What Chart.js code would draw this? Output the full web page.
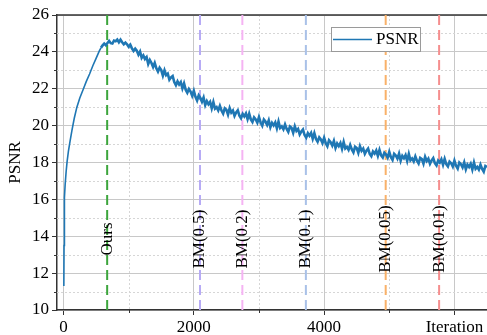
<!DOCTYPE html>
<html>
<head>
<meta charset="utf-8">
<script src="https://cdn.jsdelivr.net/npm/chart.js@4"></script>
<style>
  html, body { margin: 0; padding: 0; background: #fff; }
  #wrap { width: 487px; height: 335px; }
</style>
</head>
<body>
<div id="wrap"><canvas id="chart"></canvas></div>
<script>
// DATA
const iters = [5, 8, 12, 16, 25, 40, 55, 75, 100, 130, 165, 205, 250, 300, 350, 400, 450, 500, 550, 575,
  600, 625, 650, 675, 700, 725, 750, 775, 800, 825, 850, 875, 900, 925, 950, 975,
  1000, 1025, 1050, 1075, 1100, 1125, 1150, 1175, 1200, 1225, 1250, 1275, 1300, 1325, 1350, 1375,
  1400, 1425, 1450, 1475, 1500, 1525, 1550, 1575, 1600, 1625, 1650, 1675, 1700, 1725, 1750, 1775,
  1800, 1825, 1850, 1875, 1900, 1925, 1950, 1975, 2000, 2025, 2050, 2075, 2100, 2125, 2150, 2175,
  2200, 2225, 2250, 2275, 2300, 2325, 2350, 2375, 2400, 2425, 2450, 2475, 2500, 2525, 2550, 2575,
  2600, 2625, 2650, 2675, 2700, 2725, 2750, 2775, 2800, 2825, 2850, 2875, 2900, 2925, 2950, 2975,
  3000, 3025, 3050, 3075, 3100, 3125, 3150, 3175, 3200, 3225, 3250, 3275, 3300, 3325, 3350, 3375,
  3400, 3425, 3450, 3475, 3500, 3525, 3550, 3575, 3600, 3625, 3650, 3675, 3700, 3725, 3750, 3775,
  3800, 3825, 3850, 3875, 3900, 3925, 3950, 3975, 4000, 4025, 4050, 4075, 4100, 4125, 4150, 4175,
  4200, 4225, 4250, 4275, 4300, 4325, 4350, 4375, 4400, 4425, 4450, 4475, 4500, 4525, 4550, 4575,
  4600, 4625, 4650, 4675, 4700, 4725, 4750, 4775, 4800, 4825, 4850, 4875, 4900, 4925, 4950, 4975,
  5000, 5025, 5050, 5075, 5100, 5125, 5150, 5175, 5200, 5225, 5250, 5275, 5300, 5325, 5350, 5375,
  5400, 5425, 5450, 5475, 5500, 5525, 5550, 5575, 5600, 5625, 5650, 5675, 5700, 5725, 5750, 5775,
  5800, 5825, 5850, 5875, 5900, 5925, 5950, 5975, 6000, 6025, 6050, 6075, 6100, 6125, 6150, 6175,
  6200, 6225, 6250, 6275, 6300, 6325, 6350, 6375, 6400, 6425, 6450, 6475, 6500];
const psnr = [11.3, 13.5, 15.3, 16.1, 16.8, 17.5, 18.05, 18.6, 19.15, 19.75, 20.4, 21.0, 21.5, 21.95, 22.4, 22.8, 23.25, 23.65, 24.05, 24.22,
  24.35, 24.45, 24.36, 24.48, 24.59, 24.47, 24.45, 24.61, 24.58, 24.67, 24.52, 24.66, 24.52, 24.41, 24.50, 24.41,
  24.28, 24.39, 24.19, 24.05, 24.17, 24.06, 23.85, 24.02, 23.68, 23.81, 23.61, 23.72, 23.34, 23.56, 23.40, 23.18,
  23.40, 23.11, 22.93, 23.14, 23.01, 22.71, 23.00, 22.74, 22.82, 22.49, 22.62, 22.69, 22.36, 22.19, 22.40, 22.23,
  22.36, 22.02, 22.29, 21.95, 21.78, 21.99, 21.85, 21.62, 21.89, 21.56, 21.36, 21.64, 21.50, 21.29, 21.52, 21.11,
  21.33, 21.16, 21.29, 20.94, 21.28, 20.92, 21.00, 20.82, 21.07, 20.82, 20.65, 20.94, 20.86, 20.60, 20.95, 20.71,
  20.82, 20.53, 20.71, 20.83, 20.54, 20.40, 20.64, 20.50, 20.66, 20.35, 20.65, 20.34, 20.20, 20.45, 20.34, 20.16,
  20.46, 20.17, 20.00, 20.33, 20.22, 20.04, 20.29, 19.91, 20.15, 20.01, 20.17, 19.85, 20.22, 19.87, 19.96, 19.80,
  20.06, 19.82, 19.66, 19.95, 19.88, 19.61, 19.96, 19.71, 19.82, 19.52, 19.68, 19.79, 19.49, 19.35, 19.59, 19.45,
  19.61, 19.29, 19.59, 19.28, 19.13, 19.36, 19.25, 19.05, 19.34, 19.05, 18.88, 19.21, 19.10, 18.92, 19.17, 18.79,
  19.03, 18.89, 19.06, 18.74, 19.11, 18.76, 18.85, 18.69, 18.95, 18.71, 18.55, 18.85, 18.78, 18.52, 18.88, 18.64,
  18.76, 18.47, 18.64, 18.76, 18.47, 18.34, 18.60, 18.48, 18.65, 18.36, 18.68, 18.39, 18.27, 18.53, 18.44, 18.26,
  18.58, 18.29, 18.14, 18.47, 18.38, 18.21, 18.48, 18.10, 18.36, 18.23, 18.40, 18.08, 18.46, 18.12, 18.22, 18.06,
  18.33, 18.10, 17.95, 18.25, 18.19, 17.94, 18.31, 18.08, 18.21, 17.93, 18.11, 18.24, 17.96, 17.84, 18.10, 17.99,
  18.17, 17.88, 18.20, 17.91, 17.79, 18.05, 17.96, 17.78, 18.10, 17.82, 17.67, 18.00, 17.91, 17.74, 18.01, 17.63,
  17.89, 17.76, 17.93, 17.62, 18.00, 17.66, 17.76, 17.61, 17.88, 17.65, 17.50, 17.81, 17.75];

const markerNames = ["Ours", "BM(0.5)", "BM(0.2)", "BM(0.1)", "BM(0.05)", "BM(0.01)"];
const markerIters = [670, 2095, 2745, 3720, 4945, 5765];
const markerColors = ["#3ca53c", "#b7abf5", "#f5b3f3", "#a9c1e8", "#f9b169", "#f58e8e"];

const xTicks = [0, 2000, 4000, 6000];
const xMinor = [1000, 3000, 5000];
const yTicks = [10, 12, 14, 16, 18, 20, 22, 24, 26];
const yMinor = [11, 13, 15, 17, 19, 21, 23, 25];

const xMin = -100, xMax = 6500, yMin = 10, yMax = 26;

Chart.defaults.font.family = "'Liberation Serif', 'Times New Roman', serif";
Chart.defaults.font.size = 17;
Chart.defaults.color = "#000";

// DATASETS
let datasets = [{
  label: "PSNR",
  data: iters.map((v, i) => ({ x: v, y: psnr[i] })),
  borderColor: "#1f77b4",
  borderWidth: 2.6,
  // thin while the curve is still smooth, thicker once it gets noisy
  segment: { borderWidth: c => c.p0.parsed.x < 575 ? 1.6 : 2.6 },
  pointRadius: 0,
  tension: 0,
  order: 0
}];

markerIters.forEach((v, i) => {
  datasets.push({
    label: markerNames[i],
    data: [{ x: v, y: yMin }, { x: v, y: yMax }],
    borderColor: markerColors[i],
    borderWidth: 2,
    borderDash: [10, 5],
    pointRadius: 0,
    order: 1
  });
});

// DECOR: minor grid, minor ticks, frame, marker labels, legend
const decor = {
  id: "decor",
  beforeDatasetsDraw(chart) {
    let { ctx, chartArea: a, scales: { x, y } } = chart;
    ctx.save();
    ctx.lineWidth = 1;
    ctx.strokeStyle = "#d6d6d6";
    ctx.setLineDash([2, 2]);
    xMinor.forEach(v => {
      let px = Math.round(x.getPixelForValue(v)) + 0.5;
      ctx.beginPath(); ctx.moveTo(px, a.top); ctx.lineTo(px, a.bottom); ctx.stroke();
    });
    yMinor.forEach(v => {
      let py = Math.round(y.getPixelForValue(v)) + 0.5;
      ctx.beginPath(); ctx.moveTo(a.left, py); ctx.lineTo(a.right, py); ctx.stroke();
    });
    ctx.setLineDash([]);
    ctx.strokeStyle = "#333";
    xMinor.forEach(v => {
      let px = Math.round(x.getPixelForValue(v)) + 0.5;
      ctx.beginPath(); ctx.moveTo(px, a.bottom); ctx.lineTo(px, a.bottom + 3); ctx.stroke();
    });
    yMinor.forEach(v => {
      let py = Math.round(y.getPixelForValue(v)) + 0.5;
      ctx.beginPath(); ctx.moveTo(a.left - 3, py); ctx.lineTo(a.left, py); ctx.stroke();
    });
    ctx.lineWidth = 1.5;
    ctx.beginPath(); ctx.moveTo(a.left, a.top); ctx.lineTo(a.right, a.top); ctx.stroke();
    ctx.restore();
  },
  afterDatasetsDraw(chart) {
    let { ctx, chartArea: a, scales: { x, y } } = chart;
    ctx.save();
    ctx.font = "17px 'Liberation Serif'";
    ctx.fillStyle = "#000";
    ctx.textAlign = "center";
    ctx.textBaseline = "middle";
    markerIters.forEach((v, i) => {
      ctx.save();
      ctx.translate(x.getPixelForValue(v), y.getPixelForValue(13.85));
      ctx.rotate(-Math.PI / 2);
      ctx.fillText(markerNames[i], 0, 0);
      ctx.restore();
    });

    // legend
    let lx = a.right - 156, ly = a.top + 12;
    ctx.fillStyle = "#fff";
    ctx.fillRect(lx, ly, 89, 24);
    ctx.strokeStyle = "#9a9a9a";
    ctx.lineWidth = 1;
    ctx.strokeRect(lx + 0.5, ly + 0.5, 89, 24);
    ctx.strokeStyle = datasets[0].borderColor;
    ctx.lineWidth = 1.5;
    ctx.beginPath(); ctx.moveTo(lx + 2, ly + 12.5); ctx.lineTo(lx + 41, ly + 12.5); ctx.stroke();
    ctx.fillStyle = "#000";
    ctx.textAlign = "left";
    ctx.fillText(datasets[0].label, lx + 45, ly + 13);
    ctx.restore();
  }
};

new Chart(document.getElementById("chart"), {
  type: "line",
  data: { datasets },
  options: {
    responsive: true,
    maintainAspectRatio: false,
    animation: false,
    devicePixelRatio: 1,
    layout: { padding: { top: 15, right: 0, left: 0, bottom: 0 } },
    plugins: { legend: { display: false }, tooltip: { enabled: false } },
    scales: {
      x: {
        type: "linear",
        min: xMin,
        max: xMax,
        afterBuildTicks: s => { s.ticks = xTicks.map(v => ({ value: v })); },
        afterFit: s => { s.height = 25; },
        ticks: {
          padding: 2,
          maxRotation: 0,
          callback: v => v === 6000 ? "Iteration" : String(v)
        },
        grid: { color: "#c8c8c8", tickColor: "#333", tickLength: 5 },
        border: { color: "#333", width: 1.5 }
      },
      y: {
        min: yMin,
        max: yMax,
        afterBuildTicks: s => { s.ticks = yTicks.map(v => ({ value: v })); },
        afterFit: s => { s.width = 57; },
        ticks: { padding: 3, callback: v => String(v) },
        grid: { color: "#c8c8c8", tickColor: "#333", tickLength: 5 },
        border: { color: "#333", width: 1.5 },
        title: { display: true, text: "PSNR", padding: { top: 5, bottom: 0 }, font: { size: 17 } }
      }
    }
  },
  plugins: [decor]
});
</script>
</body>
</html>
